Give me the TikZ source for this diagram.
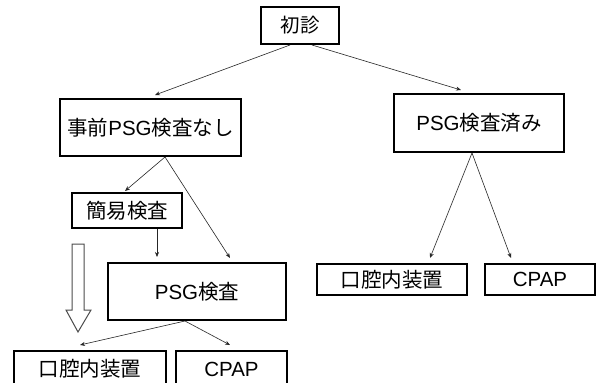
\documentclass[tikz,border=0pt]{standalone}
\usepackage{fontspec}
\setmainfont{Liberation Sans}
\newfontfamily\jp{Noto Sans CJK JP}
\usetikzlibrary{arrows.meta}
\tikzset{
  box/.style={draw=black, line width=2pt, rectangle, inner sep=0pt, fill=white,
    font=\fontsize{20.5}{24}\selectfont},
  arr/.style={draw=black!85, line width=0.6pt, -{Stealth[length=5pt,width=4pt]}},
  hollow/.style={draw=black!70, line width=1pt, fill=white, line join=miter}
}
\begin{document}
\begin{tikzpicture}[x=1pt,y=-1pt]
\useasboundingbox (0,0) rectangle (598,383);
\clip (0,0) rectangle (598,383);
\fill[white] (0,0) rectangle (598,383);
% nodes
\node[box, minimum width=78pt, minimum height=37pt, font=\fontsize{19.5}{23}\selectfont] (a) at (300,25.5) {\jp 初診};
\node[box, minimum width=181pt, minimum height=57pt] (b) at (150.5,127.5) {{\jp 事前}PSG{\jp 検査なし}};
\node[box, minimum width=170pt, minimum height=58pt] (c) at (479,123) {PSG{\jp 検査済み}};
\node[box, minimum width=110pt, minimum height=35pt] (d) at (127,210.5) {\jp 簡易検査};
\node[box, minimum width=178pt, minimum height=57pt] (e) at (197,291.5) {PSG{\jp 検査}};
\node[box, minimum width=152pt, minimum height=36pt] (f) at (90,369) {\jp 口腔内装置};
\node[box, minimum width=111pt, minimum height=36pt] (g) at (231.5,369) {CPAP};
\node[box, minimum width=150pt, minimum height=31pt] (h) at (392,279.5) {\jp 口腔内装置};
\node[box, minimum width=110pt, minimum height=31pt] (i) at (540,279.5) {CPAP};
% arrow tips
\coordinate (tb) at (155,95);
\coordinate (tc) at (461,90);
\coordinate (td) at (125,191);
\coordinate (te1) at (230,258);
\coordinate (te2) at (157,257);
\coordinate (tf) at (80,345);
\coordinate (tg) at (230,345);
\coordinate (th) at (430,258);
\coordinate (ti) at (511,258);
% connectors
\draw[arr] ([xshift=-10pt]a.south) -- (tb);
\draw[arr] ([xshift=12pt]a.south) -- (tc);
\draw[arr] ([xshift=14.5pt]b.south) -- (td);
\draw[arr] ([xshift=14.5pt]b.south) -- (te1);
\draw[arr] ([xshift=30pt]d.south) -- (te2);
\draw[arr] ([xshift=-12pt]e.south) -- (tf);
\draw[arr] ([xshift=-12pt]e.south) -- (tg);
\draw[arr] ([xshift=-7pt]c.south) -- (th);
\draw[arr] ([xshift=-7pt]c.south) -- (ti);
% hollow block arrow
\draw[hollow] (72,244) -- (84,244) -- (84,310) -- (91,310) -- (78,332) -- (66,310) -- (72,310) -- cycle;
\end{tikzpicture}
\end{document}
